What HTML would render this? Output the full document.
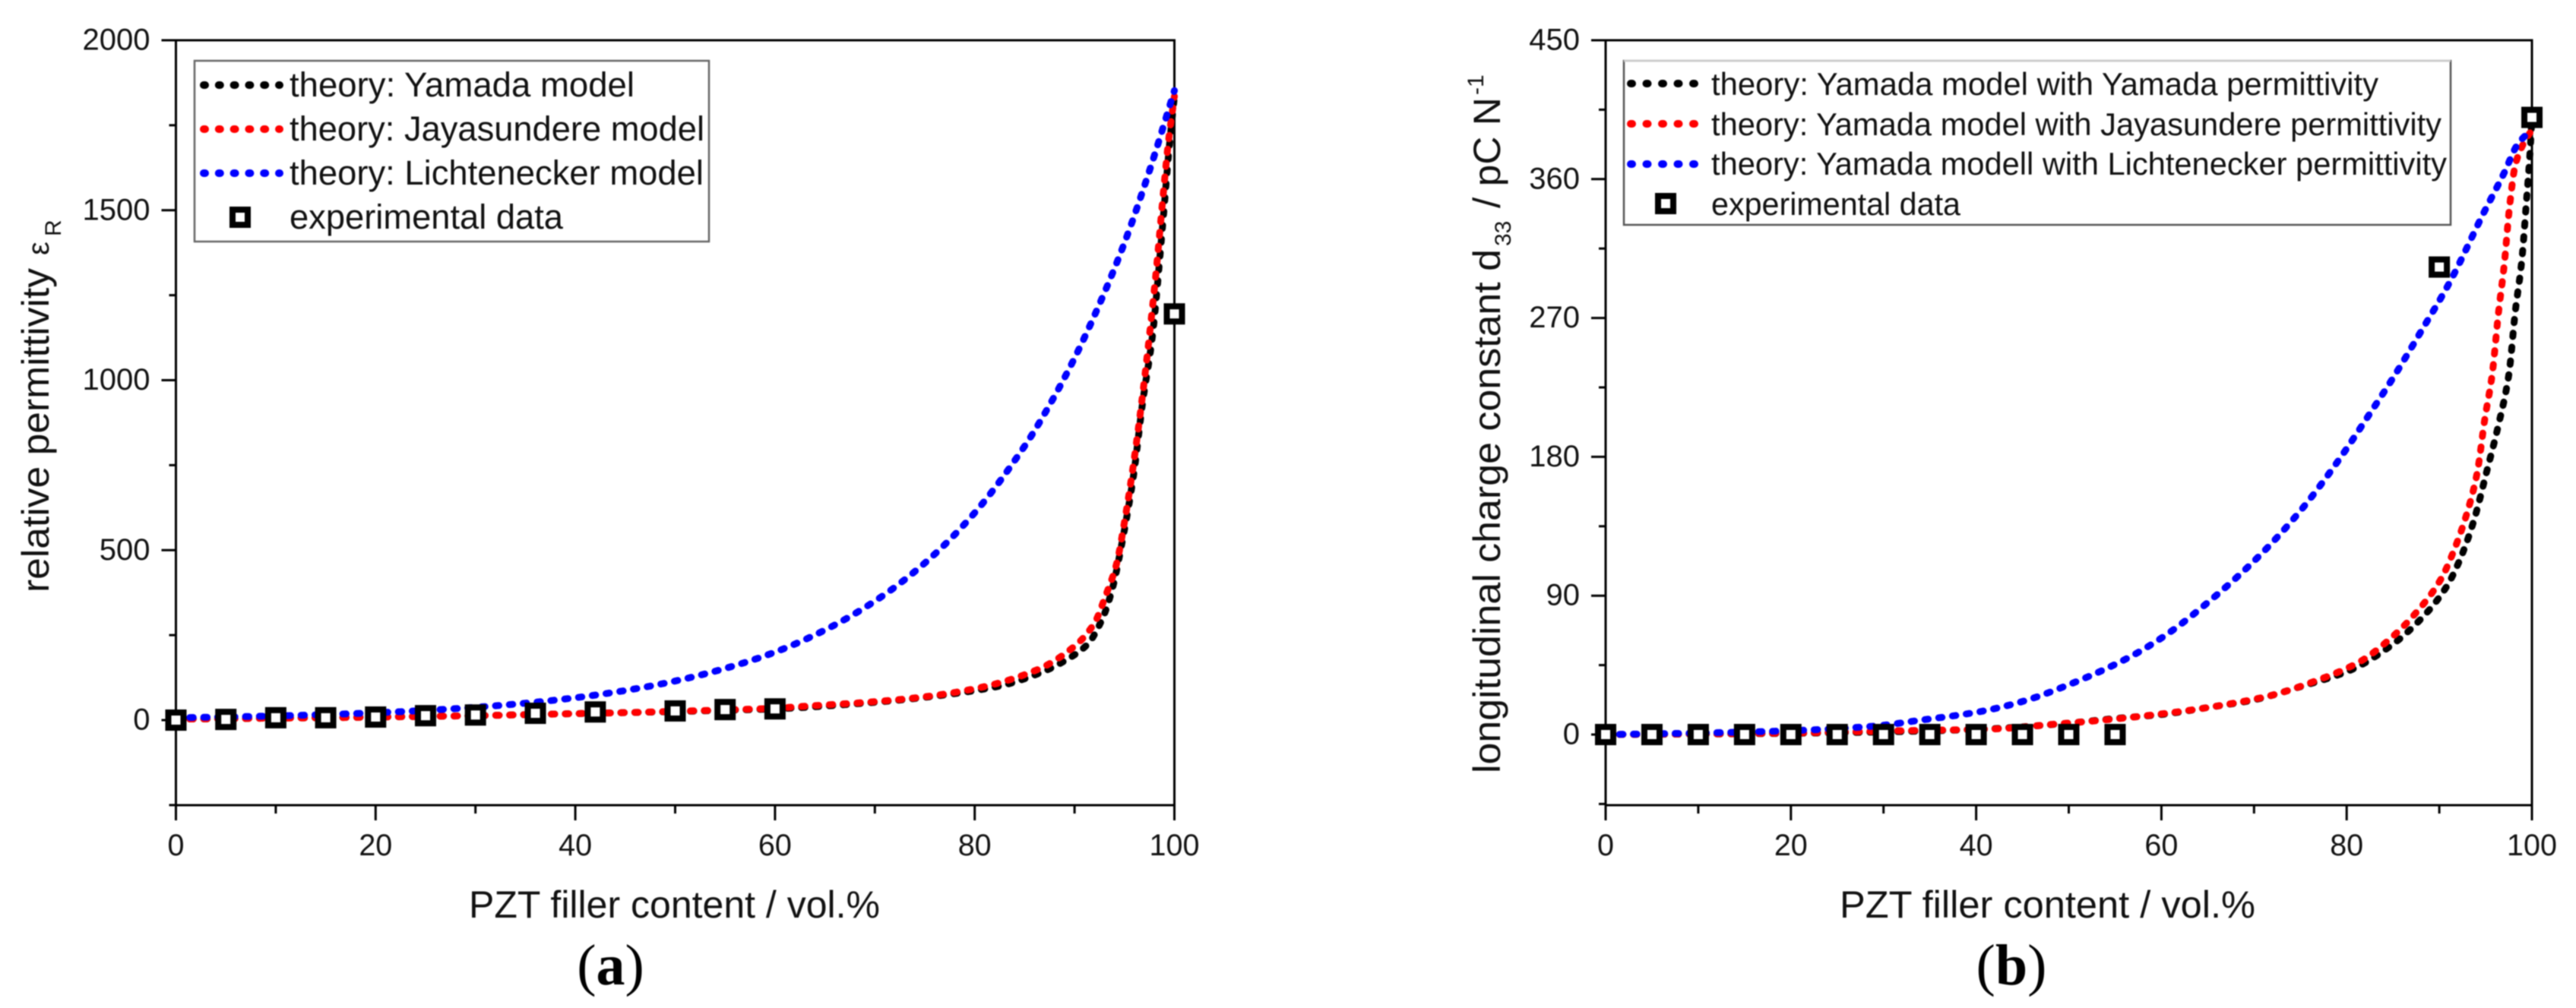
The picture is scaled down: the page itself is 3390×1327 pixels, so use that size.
<!DOCTYPE html>
<html lang="en">
<head>
<meta charset="utf-8">
<title>PZT composite permittivity and charge constant</title>
<style>
html,body{margin:0;padding:0;background:#fff;}
svg{display:block;filter:blur(0.7px);}
text{font-family:"Liberation Sans",Arial,sans-serif;fill:#111;}
.lg{font-size:45px;}
.lgb{font-size:41.5px;}
.title{font-size:50px;}
.caption{font-family:"Liberation Serif","Times New Roman",serif;font-size:76px;fill:#000;}
</style>
</head>
<body>
<svg id="figure" xmlns="http://www.w3.org/2000/svg" width="3390" height="1327" viewBox="0 0 3390 1327">
  <rect x="0" y="0" width="3390" height="1327" fill="#fff"/>
  <g id="chart-a"></g>
  <g id="chart-b"></g>

  <!-- Panel a labels -->
  <text class="title" x="617" y="1208" textLength="541" lengthAdjust="spacingAndGlyphs">PZT filler content / vol.%</text>
  <text class="title" transform="translate(64,780) rotate(-90)" textLength="427" lengthAdjust="spacingAndGlyphs">relative permittivity</text>
  <text transform="translate(64,336) rotate(-90)" font-size="40">ε</text>
  <text transform="translate(80,311) rotate(-90)" font-size="30">R</text>
  <text class="caption" x="803.5" y="1296" text-anchor="middle">(<tspan font-weight="bold">a</tspan>)</text>

  <!-- Panel a legend -->
  <g>
    <rect x="256" y="80" width="677" height="238" fill="#fff" stroke="#666" stroke-width="2.5"/>
    <line x1="268" y1="112" x2="368" y2="112" stroke="#000" stroke-width="10" stroke-linecap="round" stroke-dasharray="2 17.8"/>
    <text class="lg" x="381" y="127" textLength="454" lengthAdjust="spacingAndGlyphs">theory: Yamada model</text>
    <line x1="268" y1="170" x2="368" y2="170" stroke="#f00" stroke-width="10" stroke-linecap="round" stroke-dasharray="2 17.8"/>
    <text class="lg" x="381" y="185" textLength="546" lengthAdjust="spacingAndGlyphs">theory: Jayasundere model</text>
    <line x1="268" y1="228" x2="368" y2="228" stroke="#00f" stroke-width="10" stroke-linecap="round" stroke-dasharray="2 17.8"/>
    <text class="lg" x="381" y="243" textLength="545" lengthAdjust="spacingAndGlyphs">theory: Lichtenecker model</text>
    <rect x="306" y="276" width="20" height="20" fill="#fff" stroke="#000" stroke-width="8"/>
    <text class="lg" x="381" y="301" textLength="360" lengthAdjust="spacingAndGlyphs">experimental data</text>
  </g>

  <!-- Panel b labels -->
  <text class="title" x="2421" y="1208" textLength="547" lengthAdjust="spacingAndGlyphs">PZT filler content / vol.%</text>
  <text class="title" transform="translate(1974,1018) rotate(-90)" textLength="690" lengthAdjust="spacingAndGlyphs">longitudinal charge constant d</text>
  <text transform="translate(1988,324) rotate(-90)" font-size="30">33</text>
  <text class="title" transform="translate(1974,274) rotate(-90)" textLength="146" lengthAdjust="spacingAndGlyphs">/ pC N</text>
  <text transform="translate(1952,125) rotate(-90)" font-size="30">-1</text>
  <text class="caption" x="2647" y="1296" text-anchor="middle">(<tspan font-weight="bold">b</tspan>)</text>

  <!-- Panel b legend -->
  <g>
    <rect x="2137" y="80" width="1088" height="216" fill="#fff" stroke="#555" stroke-width="2.5"/>
    <line x1="2137" y1="80" x2="3225" y2="80" stroke="#ccc" stroke-width="3"/>
    <line x1="2146" y1="110" x2="2230" y2="110" stroke="#000" stroke-width="10" stroke-linecap="round" stroke-dasharray="2 18.5"/>
    <text class="lgb" x="2252" y="125" textLength="878" lengthAdjust="spacingAndGlyphs">theory: Yamada model with Yamada permittivity</text>
    <line x1="2146" y1="163" x2="2230" y2="163" stroke="#f00" stroke-width="10" stroke-linecap="round" stroke-dasharray="2 18.5"/>
    <text class="lgb" x="2252" y="178" textLength="961" lengthAdjust="spacingAndGlyphs">theory: Yamada model with Jayasundere permittivity</text>
    <line x1="2146" y1="216" x2="2230" y2="216" stroke="#00f" stroke-width="10" stroke-linecap="round" stroke-dasharray="2 18.5"/>
    <text class="lgb" x="2252" y="230" textLength="968" lengthAdjust="spacingAndGlyphs">theory: Yamada modell with Lichtenecker permittivity</text>
    <rect x="2182" y="258" width="20" height="20" fill="#fff" stroke="#000" stroke-width="8"/>
    <text class="lgb" x="2252" y="283" textLength="328" lengthAdjust="spacingAndGlyphs">experimental data</text>
  </g>
</svg>

<script>
// ---- Panel (a): relative permittivity ----
const aTickX = [0, 20, 40, 60, 80, 100];
const aMinorX = [10, 30, 50, 70, 90];
const aTickY = [0, 500, 1000, 1500, 2000];
const aMinorY = [-250, 250, 750, 1250, 1750];

const aYamadaX = [0, 5, 10, 15, 20, 25, 30, 35, 40, 45, 50, 55, 60, 69, 75, 82.3, 86.4, 89.1, 91.3, 92.8, 93.8, 94.8, 95.9, 96.8, 97.8, 98.8, 99.5, 100];
const aYamadaY = [3, 4, 6, 7, 9, 11, 13, 16, 19, 22, 25, 29, 33, 50, 67, 99, 137, 176, 223, 299, 388, 529, 718, 930, 1130, 1448, 1690, 1835];

const aJayaX = [0, 5, 10, 15, 20, 25, 30, 35, 40, 45, 50, 55, 60, 63.1, 69, 74.8, 80.6, 86.4, 90.1, 92, 93.1, 94.2, 95, 95.9, 96.9, 98.1, 98.9, 99.4, 100];
const aJayaY = [3, 4, 6, 7, 9, 11, 13, 16, 19, 22, 26, 30, 35, 41, 52, 68, 96, 150, 220, 286, 365, 459, 583, 753, 978, 1299, 1553, 1701, 1835];

const aLichtX = [0, 5, 10, 15, 20, 25, 30, 35, 40, 45, 50, 55, 60, 65, 70, 75, 80, 85, 87.5, 90, 92.5, 95, 97.5, 100];
const aLichtY = [7, 9.4, 12.4, 16.4, 21.6, 28.5, 37.7, 49.8, 65.8, 87, 115, 152, 200, 265, 350, 462, 610, 806, 927, 1065, 1224, 1404, 1616, 1852];

const aExpX = [0, 5, 10, 15, 20, 25, 30, 36, 42, 50, 55, 60, 100];
const aExpY = [0, 2, 7, 7, 9, 13, 15, 20, 24, 27, 31, 33, 1195];

// ---- Panel (b): longitudinal charge constant ----
const bTickX = [0, 20, 40, 60, 80, 100];
const bMinorX = [10, 30, 50, 70, 90];
const bTickY = [0, 90, 180, 270, 360, 450];
const bMinorY = [-45, 45, 135, 225, 315, 405];

const bYamadaX = [0, 10, 20, 30, 40, 45, 50, 55, 60, 65, 70, 75, 80.5, 85, 88.5, 90.8, 92.2, 93.7, 95.1, 96.4, 97.5, 98.2, 98.9, 99.4, 99.8, 100];
const bYamadaY = [0, 0.3, 0.8, 1.7, 3.3, 5, 7.4, 10.4, 13, 17.5, 22.5, 31, 42, 58.6, 78, 96, 113, 138, 170, 201, 233, 274, 307, 345, 378, 400];

const bJayaX = [0, 10, 20, 32, 41.8, 48.2, 52.7, 57.7, 62.5, 67.2, 71.8, 76.3, 81.3, 85, 88.3, 90.2, 91.6, 93.1, 94.1, 94.9, 95.7, 96.4, 97, 97.6, 98.2, 99, 100];
const bJayaY = [0, 0.4, 1, 2.5, 3.6, 6.6, 8.8, 11.8, 15.3, 19.7, 25.3, 34, 46.8, 63.7, 84.7, 101, 119.6, 145.7, 170, 204, 233, 274, 304, 343, 369, 382, 392];

const bLichtX = [0, 10, 20, 28.9, 34.1, 40, 44.7, 50.7, 56.5, 60.6, 65.8, 70.6, 75.1, 79, 82.5, 85.2, 87.9, 91.2, 94.7, 97, 98.4, 99.6, 100];
const bLichtY = [0, 1, 2.5, 5.4, 9.4, 14.4, 20.9, 34, 50, 65, 89.6, 116, 145.7, 176.7, 208, 233, 260, 294, 337, 364, 382, 390, 392];

const bExpX = [0, 5, 10, 15, 20, 25, 30, 35, 40, 45, 50, 55, 90, 100];
const bExpY = [0, 0, 0, 0, 0, 0, 0, 0, 0, 0, 0, 0, 303, 400];

const SVG_NS = 'http://www.w3.org/2000/svg';

function make(tag, attrs, parent) {
  const el = document.createElementNS(SVG_NS, tag);
  for (const k in attrs) { el.setAttribute(k, attrs[k]); }
  parent.appendChild(el);
  return el;
}

// Monotone cubic path through the data points, mapped by the axis functions.
function curvePath(xs, ys, sx, sy) {
  const px = xs.map(sx);
  const py = ys.map(sy);
  const n = px.length;
  const slope = [];
  for (let i = 0; i < n - 1; i++) { slope.push((py[i + 1] - py[i]) / (px[i + 1] - px[i])); }
  const tan = [slope[0]];
  for (let i = 1; i < n - 1; i++) {
    tan.push(slope[i - 1] * slope[i] <= 0 ? 0 : 2 * slope[i - 1] * slope[i] / (slope[i - 1] + slope[i]));
  }
  tan.push(slope[n - 2]);
  let d = 'M' + px[0].toFixed(2) + ' ' + py[0].toFixed(2);
  for (let i = 0; i < n - 1; i++) {
    const h = (px[i + 1] - px[i]) / 3;
    d += 'C' + (px[i] + h).toFixed(2) + ' ' + (py[i] + tan[i] * h).toFixed(2) + ' ' +
      (px[i + 1] - h).toFixed(2) + ' ' + (py[i + 1] - tan[i + 1] * h).toFixed(2) + ' ' +
      px[i + 1].toFixed(2) + ' ' + py[i + 1].toFixed(2);
  }
  return d;
}

function drawChart(group, box, xDomain, yDomain, ticks, series, expX, expY) {
  const sx = function (v) { return box.left + (v - xDomain[0]) / (xDomain[1] - xDomain[0]) * (box.right - box.left); };
  const sy = function (v) { return box.zeroY - (v - yDomain[0]) / (yDomain[1] - yDomain[0]) * (box.zeroY - box.top); };

  const frame = make('rect', { x: box.left, y: box.top, width: box.right - box.left, height: box.bottom - box.top, fill: 'none', stroke: '#000', 'stroke-width': 3 }, group);
  
  

  ticks.majorX.forEach(function (v) {
    const t = make('line', { x1: sx(v), x2: sx(v), y1: box.bottom, y2: box.bottom + 20, stroke: '#000', 'stroke-width': 3 }, group);
    
    
    const label = make('text', { x: sx(v), y: 1126, 'text-anchor': 'middle', 'font-size': 39.5 }, group);
    label.textContent = String(v);
    
    
  });
  ticks.minorX.forEach(function (v) {
    const t = make('line', { x1: sx(v), x2: sx(v), y1: box.bottom, y2: box.bottom + 11, stroke: '#000', 'stroke-width': 3 }, group);
    
    
  });
  ticks.majorY.forEach(function (v) {
    const t = make('line', { x1: box.left - 19, x2: box.left, y1: sy(v), y2: sy(v), stroke: '#000', 'stroke-width': 3 }, group);
    
    
    const label = make('text', { x: box.left - 34, y: sy(v) + 12.5, 'text-anchor': 'end', 'font-size': 40 }, group);
    label.textContent = String(v);
    
    
  });
  ticks.minorY.forEach(function (v) {
    const t = make('line', { x1: box.left - 9, x2: box.left, y1: sy(v), y2: sy(v), stroke: '#000', 'stroke-width': 3 }, group);
    
    
  });

  series.forEach(function (s) {
    const line = make('path', { d: curvePath(s.x, s.y, sx, sy), fill: 'none', stroke: s.color, 'stroke-width': 9, 'stroke-linecap': 'round', 'stroke-linejoin': 'round', 'stroke-dasharray': '4.5 13.8' }, group);
    
    
  });

  expX.forEach(function (v, i) {
    const m = make('rect', { x: sx(v) - 10, y: sy(expY[i]) - 10, width: 20, height: 20, fill: '#fff', stroke: '#000', 'stroke-width': 8 }, group);
    
    
  });
}

drawChart(
  document.getElementById('chart-a'),
  { left: 231.5, right: 1545.5, top: 53, zeroY: 948, bottom: 1060 },
  [0, 100], [0, 2000],
  { majorX: aTickX, minorX: aMinorX, majorY: aTickY, minorY: aMinorY },
  [
    { name: 'yamada-curve-a', color: '#000', x: aYamadaX, y: aYamadaY },
    { name: 'jayasundere-curve-a', color: '#f00', x: aJayaX, y: aJayaY },
    { name: 'lichtenecker-curve-a', color: '#00f', x: aLichtX, y: aLichtY }
  ],
  aExpX, aExpY
);

drawChart(
  document.getElementById('chart-b'),
  { left: 2113, right: 3332, top: 53, zeroY: 967, bottom: 1060 },
  [0, 100], [0, 450],
  { majorX: bTickX, minorX: bMinorX, majorY: bTickY, minorY: bMinorY },
  [
    { name: 'yamada-curve-b', color: '#000', x: bYamadaX, y: bYamadaY },
    { name: 'jayasundere-curve-b', color: '#f00', x: bJayaX, y: bJayaY },
    { name: 'lichtenecker-curve-b', color: '#00f', x: bLichtX, y: bLichtY }
  ],
  bExpX, bExpY
);
</script>
</body>
</html>
